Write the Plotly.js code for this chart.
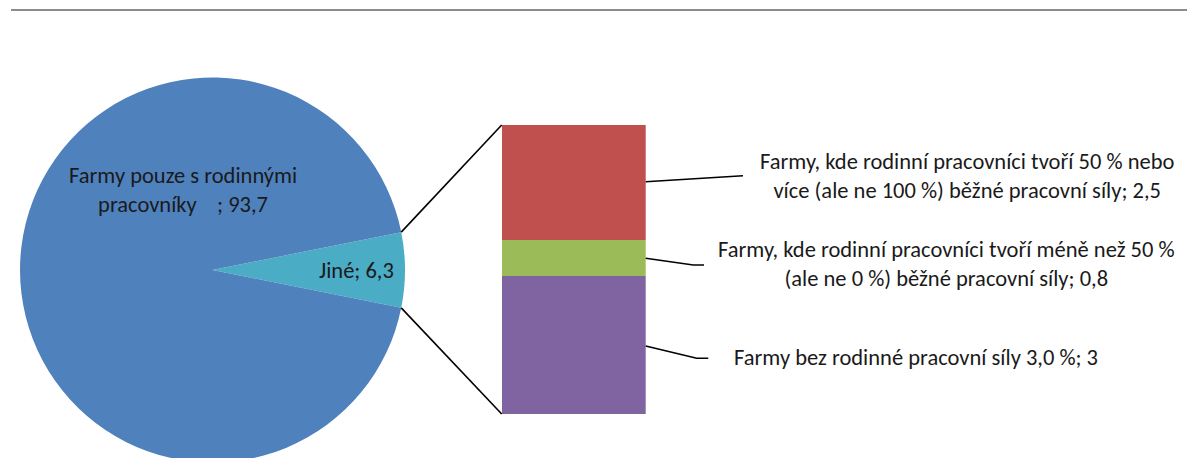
<!DOCTYPE html>
<html>
<head>
<meta charset="utf-8">
<script src="https://cdn.plot.ly/plotly-3.0.1.min.js"></script>
<style>
  html, body { margin: 0; padding: 0; background: #fff; overflow: hidden; }
  #chart { width: 1187px; height: 470px; }
</style>
</head>
<body>
<div id="chart"></div>
<script>
// Farm structure by share of family labour (%)
const pieLabels = ['Jiné', 'Farmy pouze s rodinnými pracovníky'];
const pieValues = [6.3, 93.7];
const pieColors = ['#4BACC6', '#4F81BD'];

// breakdown of "Jiné", stacked bottom to top
const barLabels = [
  'Farmy bez rodinné pracovní síly 3,0 %',
  'Farmy, kde rodinní pracovníci tvoří méně než 50 %<br>(ale ne 0 %) běžné pracovní síly',
  'Farmy, kde rodinní pracovníci tvoří 50 % nebo<br>více (ale ne 100 %) běžné pracovní síly'
];
const barValues = [3, 0.8, 2.5];
const barColors = ['#8064A2', '#9BBB59', '#C0504D'];

const W = 1187, H = 470;
const FONT = 'Carlito, Lato, "Liberation Sans", sans-serif';
const FONT_SIZE = 22.5;
const fmt = v => String(v).replace('.', ',');

// pixel helpers (top-left origin) -> paper coordinates
const px = x => x / W;
const py = y => (H - y) / H;

// pie geometry
const cx = 212.5, cy = 270, r = 192.5;
const otherShare = pieValues[0] / (pieValues[0] + pieValues[1]);
const halfAngle = otherShare * Math.PI;           // half of the "Jiné" slice
const rotation = 90 - otherShare * 180;            // centre the slice at 3 o'clock

// stacked column geometry
const barLeft = 501.7, barRight = 645.7, barTop = 125, barBottom = 414;
const barTotal = barValues.reduce((a, b) => a + b, 0);

const traces = [
  {
    type: 'pie',
    labels: pieLabels,
    values: pieValues,
    marker: { colors: pieColors, line: { width: 0 } },
    sort: false,
    direction: 'clockwise',
    rotation: rotation,
    textinfo: 'none',
    hoverinfo: 'label+value',
    showlegend: false,
    domain: { x: [px(cx - r), px(cx + r)], y: [py(cy + r), py(cy - r)] }
  }
];

barValues.forEach((v, i) => {
  traces.push({
    type: 'bar',
    x: ['Jiné'],
    y: [v],
    name: barLabels[i],
    marker: { color: barColors[i], line: { width: 0 } },
    width: 1,
    showlegend: false,
    hoverinfo: 'y',
    xaxis: 'x',
    yaxis: 'y'
  });
});

// connectors from the pie slice edges to the column
const edgeTop = [cx + r * Math.cos(halfAngle), cy - r * Math.sin(halfAngle)];
const edgeBot = [cx + r * Math.cos(halfAngle), cy + r * Math.sin(halfAngle)];
const line = (x0, y0, x1, y1) => ({
  type: 'line', xref: 'paper', yref: 'paper',
  x0: px(x0), y0: py(y0), x1: px(x1), y1: py(y1),
  line: { color: '#000', width: 1.6 }
});
const path = pts => ({
  type: 'path', xref: 'paper', yref: 'paper',
  path: 'M ' + pts.map(p => px(p[0]) + ',' + py(p[1])).join(' L '),
  line: { color: '#000', width: 1.6 }
});

const shapes = [
  // rule under the heading
  { type: 'line', xref: 'paper', yref: 'paper', x0: px(11), x1: 1, y0: py(10), y1: py(10),
    line: { color: '#8C8C8C', width: 2 } },
  line(edgeTop[0], edgeTop[1], barLeft, barTop),
  line(edgeBot[0], edgeBot[1], barLeft, barBottom),
  // leader lines for the column labels
  path([[barRight, 181.7], [743, 175.7]]),
  path([[barRight, 258.3], [693.3, 265], [704, 265]]),
  path([[barRight, 346], [696.7, 358.3], [708.3, 358.3]])
];

const ann = (x, y, text, align) => ({
  xref: 'paper', yref: 'paper', x: px(x), y: py(y),
  xanchor: 'center', yanchor: 'middle', showarrow: false,
  text: text, align: align || 'center',
  font: { family: FONT, size: FONT_SIZE, color: '#1a1a1a' }
});

const annotations = [
  ann(183, 190, 'Farmy pouze s rodinnými<br>pracovníky\u00a0\u00a0\u00a0\u00a0; ' + fmt(pieValues[1])),
  ann(356, 270, pieLabels[0] + '; ' + fmt(pieValues[0])),
  ann(967, 176, barLabels[2] + '; ' + fmt(barValues[2])),
  ann(946, 263.5, barLabels[1] + '; ' + fmt(barValues[1])),
  ann(916, 357, barLabels[0] + '; ' + fmt(barValues[0]))
];

const layout = {
  width: W, height: H,
  margin: { l: 0, r: 0, t: 0, b: 0 },
  paper_bgcolor: '#fff', plot_bgcolor: 'rgba(0,0,0,0)',
  barmode: 'stack', bargap: 0,
  xaxis: { domain: [px(barLeft), px(barRight)], visible: false, fixedrange: true },
  yaxis: { domain: [py(barBottom), py(barTop)], range: [0, barTotal], visible: false, fixedrange: true },
  shapes: shapes,
  annotations: annotations,
  font: { family: FONT }
};

Plotly.newPlot('chart', traces, layout, { displayModeBar: false, staticPlot: true });
</script>
</body>
</html>
